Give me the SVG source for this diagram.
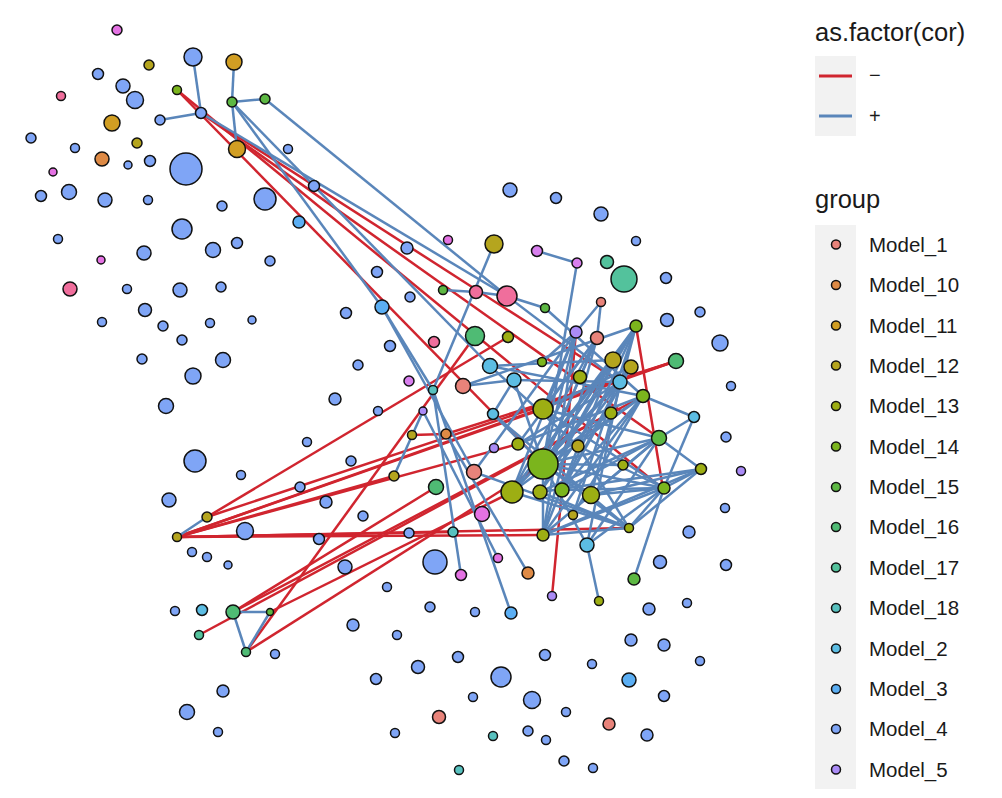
<svg xmlns="http://www.w3.org/2000/svg" width="1002" height="798" viewBox="0 0 1002 798">
<style>
text{font-family:"Liberation Sans",Arial,sans-serif;fill:#1a1a1a}
circle{stroke:#111;stroke-width:1.5}
.r line,line.r{stroke:#D0252F;stroke-width:2.5}
.bl line,line.bl{stroke:#5A86BA;stroke-width:2.5}
.m1 circle,circle.m1{fill:#E8837A}.m10 circle,circle.m10{fill:#DE8A45}.m11 circle,circle.m11{fill:#D19E23}.m12 circle,circle.m12{fill:#B5A51E}.m13 circle,circle.m13{fill:#9DAE13}.m14 circle,circle.m14{fill:#7BB51D}.m15 circle,circle.m15{fill:#5DB843}.m16 circle,circle.m16{fill:#4FBB74}.m17 circle,circle.m17{fill:#53C29C}.m18 circle,circle.m18{fill:#58C1BF}.m2 circle,circle.m2{fill:#5CBDE3}.m3 circle,circle.m3{fill:#5BAEF3}.m4 circle,circle.m4{fill:#7FA5F6}.m5 circle,circle.m5{fill:#AA8BF6}.mg circle{fill:#E472E3}.pk circle{fill:#F06E9C}.pm circle{fill:#D87FEE}
</style>
<rect width="1002" height="798" fill="#fff"/>
<g id="connectors">
<g class="r">
<line x1="177" y1="90" x2="543" y2="464"/>
<line x1="177" y1="90" x2="663" y2="489"/>
<line x1="201" y1="113" x2="620" y2="382"/>
<line x1="201" y1="113" x2="659" y2="438"/>
<line x1="207" y1="517" x2="508" y2="337"/>
<line x1="177" y1="537" x2="518" y2="444"/>
<line x1="177" y1="537" x2="543" y2="409"/>
<line x1="177" y1="537" x2="453" y2="532"/>
<line x1="177" y1="537" x2="543" y2="535"/>
<line x1="177" y1="537" x2="629" y2="528"/>
<line x1="177" y1="537" x2="394" y2="476"/>
<line x1="177" y1="537" x2="676" y2="361"/>
<line x1="207" y1="517" x2="676" y2="361"/>
<line x1="233" y1="612" x2="436" y2="487"/>
<line x1="233" y1="612" x2="611" y2="413"/>
<line x1="246" y1="652" x2="543" y2="464"/>
<line x1="246" y1="652" x2="475" y2="336"/>
<line x1="199" y1="635" x2="643" y2="396"/>
<line x1="270" y1="612" x2="512" y2="492"/>
<line x1="412" y1="435" x2="446" y2="434"/>
<line x1="446" y1="434" x2="676" y2="361"/>
<line x1="552" y1="596" x2="562" y2="490"/>
<line x1="576" y1="332" x2="562" y2="490"/>
<line x1="636" y1="326" x2="663" y2="489"/>
</g>
<g class="bl">
<line x1="193" y1="57" x2="201" y2="113"/>
<line x1="160" y1="120" x2="201" y2="113"/>
<line x1="234" y1="62" x2="232" y2="102"/>
<line x1="232" y1="102" x2="265" y2="99"/>
<line x1="232" y1="102" x2="237" y2="149"/>
<line x1="265" y1="99" x2="507" y2="296"/>
<line x1="201" y1="113" x2="507" y2="296"/>
<line x1="232" y1="102" x2="382" y2="307"/>
<line x1="232" y1="102" x2="490" y2="366"/>
<line x1="177" y1="537" x2="207" y2="517"/>
<line x1="233" y1="612" x2="270" y2="612"/>
<line x1="233" y1="612" x2="246" y2="652"/>
<line x1="270" y1="612" x2="246" y2="652"/>
<line x1="494" y1="244" x2="433" y2="390"/>
<line x1="443" y1="290" x2="476" y2="292"/>
<line x1="476" y1="292" x2="507" y2="296"/>
<line x1="507" y1="296" x2="545" y2="308"/>
<line x1="507" y1="296" x2="620" y2="382"/>
<line x1="537" y1="251" x2="577" y2="263"/>
<line x1="577" y1="263" x2="543" y2="464"/>
<line x1="601" y1="302" x2="597" y2="338"/>
<line x1="601" y1="302" x2="576" y2="332"/>
<line x1="545" y1="308" x2="643" y2="396"/>
<line x1="382" y1="307" x2="433" y2="390"/>
<line x1="382" y1="307" x2="474" y2="472"/>
<line x1="433" y1="390" x2="461" y2="575"/>
<line x1="423" y1="411" x2="394" y2="476"/>
<line x1="433" y1="390" x2="511" y2="613"/>
<line x1="423" y1="411" x2="498" y2="558"/>
<line x1="446" y1="434" x2="528" y2="573"/>
<line x1="587" y1="545" x2="599" y2="601"/>
<line x1="664" y1="488" x2="634" y2="579"/>
<line x1="543" y1="464" x2="576" y2="332"/><line x1="543" y1="464" x2="597" y2="338"/><line x1="543" y1="464" x2="636" y2="326"/><line x1="543" y1="464" x2="613" y2="360"/><line x1="543" y1="464" x2="631" y2="367"/><line x1="543" y1="464" x2="620" y2="382"/><line x1="543" y1="464" x2="643" y2="396"/><line x1="543" y1="464" x2="611" y2="413"/><line x1="543" y1="464" x2="659" y2="438"/><line x1="543" y1="464" x2="623" y2="465"/><line x1="543" y1="464" x2="664" y2="488"/><line x1="543" y1="464" x2="629" y2="528"/><line x1="543" y1="464" x2="591" y2="495"/><line x1="543" y1="464" x2="543" y2="535"/><line x1="543" y1="464" x2="587" y2="545"/><line x1="543" y1="464" x2="580" y2="377"/><line x1="543" y1="464" x2="514" y2="380"/><line x1="543" y1="464" x2="493" y2="414"/>
<line x1="512" y1="492" x2="576" y2="332"/><line x1="512" y1="492" x2="597" y2="338"/><line x1="512" y1="492" x2="613" y2="360"/><line x1="512" y1="492" x2="620" y2="382"/><line x1="512" y1="492" x2="643" y2="396"/><line x1="512" y1="492" x2="636" y2="326"/>
<line x1="540" y1="492" x2="636" y2="326"/><line x1="540" y1="492" x2="613" y2="360"/><line x1="540" y1="492" x2="631" y2="367"/><line x1="540" y1="492" x2="659" y2="438"/><line x1="540" y1="492" x2="629" y2="528"/>
<line x1="562" y1="490" x2="636" y2="326"/><line x1="562" y1="490" x2="631" y2="367"/><line x1="562" y1="490" x2="620" y2="382"/><line x1="562" y1="490" x2="643" y2="396"/><line x1="562" y1="490" x2="659" y2="438"/><line x1="562" y1="490" x2="664" y2="488"/>
<line x1="591" y1="495" x2="659" y2="438"/><line x1="591" y1="495" x2="664" y2="488"/><line x1="591" y1="495" x2="636" y2="326"/>
<line x1="543" y1="535" x2="664" y2="488"/><line x1="543" y1="535" x2="629" y2="528"/><line x1="543" y1="535" x2="659" y2="438"/><line x1="543" y1="535" x2="643" y2="396"/><line x1="543" y1="535" x2="613" y2="360"/><line x1="543" y1="535" x2="576" y2="332"/><line x1="543" y1="535" x2="597" y2="338"/>
<line x1="587" y1="545" x2="664" y2="488"/><line x1="587" y1="545" x2="659" y2="438"/><line x1="587" y1="545" x2="620" y2="382"/>
<line x1="573" y1="515" x2="636" y2="326"/><line x1="573" y1="515" x2="643" y2="396"/>
<line x1="629" y1="528" x2="664" y2="488"/><line x1="629" y1="528" x2="701" y2="469"/><line x1="664" y1="488" x2="701" y2="469"/><line x1="664" y1="488" x2="694" y2="417"/><line x1="659" y1="438" x2="701" y2="469"/><line x1="659" y1="438" x2="694" y2="417"/><line x1="643" y1="396" x2="694" y2="417"/>
<line x1="543" y1="409" x2="597" y2="338"/><line x1="543" y1="409" x2="576" y2="332"/><line x1="543" y1="409" x2="631" y2="367"/><line x1="543" y1="409" x2="659" y2="438"/><line x1="543" y1="409" x2="664" y2="488"/>
<line x1="518" y1="444" x2="620" y2="382"/><line x1="518" y1="444" x2="643" y2="396"/><line x1="518" y1="444" x2="597" y2="338"/>
<line x1="578" y1="446" x2="664" y2="488"/><line x1="578" y1="446" x2="629" y2="528"/><line x1="578" y1="446" x2="490" y2="366"/>
<line x1="490" y1="366" x2="613" y2="360"/><line x1="490" y1="366" x2="643" y2="396"/><line x1="514" y1="380" x2="620" y2="382"/>
<line x1="493" y1="414" x2="514" y2="380"/><line x1="493" y1="414" x2="629" y2="528"/><line x1="580" y1="377" x2="597" y2="338"/><line x1="542" y1="362" x2="576" y2="332"/>
<line x1="474" y1="472" x2="629" y2="528"/><line x1="474" y1="472" x2="576" y2="332"/><line x1="463" y1="386" x2="514" y2="380"/><line x1="463" y1="386" x2="636" y2="326"/>
<line x1="512" y1="492" x2="629" y2="528"/><line x1="540" y1="492" x2="701" y2="469"/><line x1="591" y1="495" x2="701" y2="469"/><line x1="543" y1="535" x2="701" y2="469"/>
</g>
</g>
<g id="nodes">
<g id="n1" class="mg"><circle cx="117" cy="30" r="5"/></g>
<g id="n2" class="m4"><circle cx="193" cy="57" r="9"/></g>
<g id="n3" class="m11"><circle cx="234" cy="62" r="8"/></g>
<g id="n4" class="m12"><circle cx="149" cy="65" r="5"/></g>
<g id="n5" class="m4"><circle cx="98" cy="74" r="5.5"/></g>
<g id="n6" class="m4"><circle cx="123" cy="86" r="7"/></g>
<g id="n7" class="m4"><circle cx="135" cy="100" r="8.5"/></g>
<g id="n8" class="m14"><circle cx="177" cy="90" r="4.5"/></g>
<g id="n9" class="m15"><circle cx="232" cy="102" r="5"/></g>
<g id="n10" class="m15"><circle cx="265" cy="99" r="5"/></g>
<g id="n11" class="pk"><circle cx="61" cy="96" r="4.5"/></g>
<g id="n12" class="m4"><circle cx="201" cy="113" r="5.5"/></g>
<g id="n13" class="m4"><circle cx="160" cy="120" r="5"/></g>
<g id="n14" class="m11"><circle cx="112" cy="123" r="8"/></g>
<g id="n15" class="m4"><circle cx="31" cy="138" r="5"/></g>
<g id="n16" class="m12"><circle cx="137" cy="143" r="5"/></g>
<g id="n17" class="m11"><circle cx="237" cy="149" r="8.5"/></g>
<g id="n18" class="m4"><circle cx="75" cy="148" r="4.5"/></g>
<g id="n19" class="m4"><circle cx="288" cy="149" r="4.5"/></g>
<g id="n20" class="m10"><circle cx="102" cy="159" r="7"/></g>
<g id="n21" class="m4"><circle cx="128" cy="165" r="4"/></g>
<g id="n22" class="m4"><circle cx="150" cy="161" r="5.5"/></g>
<g id="n23" class="m4"><circle cx="186" cy="169" r="16"/></g>
<g id="n24" class="mg"><circle cx="53" cy="172" r="4"/></g>
<g id="n25" class="m4"><circle cx="41" cy="196" r="5.5"/></g>
<g id="n26" class="m4"><circle cx="69" cy="192" r="7.5"/></g>
<g id="n27" class="m4"><circle cx="105" cy="200" r="7"/></g>
<g id="n28" class="m4"><circle cx="148" cy="200" r="4.5"/></g>
<g id="n29" class="m4"><circle cx="222" cy="206" r="5"/></g>
<g id="n30" class="m4"><circle cx="265" cy="199" r="11"/></g>
<g id="n31" class="m4"><circle cx="314" cy="186" r="5.5"/></g>
<g id="n32" class="m3"><circle cx="299" cy="222" r="6"/></g>
<g id="n33" class="m4"><circle cx="182" cy="229" r="10"/></g>
<g id="n34" class="m4"><circle cx="58" cy="239" r="4.5"/></g>
<g id="n35" class="m4"><circle cx="144" cy="253" r="7"/></g>
<g id="n36" class="m4"><circle cx="213" cy="250" r="7.5"/></g>
<g id="n37" class="m4"><circle cx="237" cy="243" r="5.5"/></g>
<g id="n38" class="mg"><circle cx="101" cy="260" r="4"/></g>
<g id="n39" class="m4"><circle cx="270" cy="261" r="5"/></g>
<g id="n40" class="pk"><circle cx="70" cy="289" r="7"/></g>
<g id="n41" class="m4"><circle cx="127" cy="289" r="4.5"/></g>
<g id="n42" class="m4"><circle cx="180" cy="290" r="7"/></g>
<g id="n43" class="m4"><circle cx="221" cy="287" r="5"/></g>
<g id="n44" class="m4"><circle cx="145" cy="310" r="6.5"/></g>
<g id="n45" class="m4"><circle cx="102" cy="322" r="4.5"/></g>
<g id="n46" class="m4"><circle cx="163" cy="326" r="5"/></g>
<g id="n47" class="m4"><circle cx="210" cy="323" r="4.5"/></g>
<g id="n48" class="m4"><circle cx="252" cy="320" r="4"/></g>
<g id="n49" class="m4"><circle cx="182" cy="340" r="5"/></g>
<g id="n50" class="m4"><circle cx="142" cy="359" r="5"/></g>
<g id="n51" class="m4"><circle cx="223" cy="360" r="7.5"/></g>
<g id="n52" class="m4"><circle cx="193" cy="376" r="8"/></g>
<g id="n53" class="m4"><circle cx="166" cy="406" r="7.5"/></g>
<g id="n54" class="m4"><circle cx="335" cy="399" r="6"/></g>
<g id="n55" class="m4"><circle cx="307" cy="442" r="4.5"/></g>
<g id="n56" class="m4"><circle cx="195" cy="461" r="11"/></g>
<g id="n57" class="m4"><circle cx="241" cy="475" r="4.5"/></g>
<g id="n58" class="m4"><circle cx="300" cy="487" r="5"/></g>
<g id="n59" class="m4"><circle cx="169" cy="500" r="7"/></g>
<g id="n60" class="m4"><circle cx="326" cy="502" r="6"/></g>
<g id="n61" class="m4"><circle cx="510" cy="190" r="7"/></g>
<g id="n62" class="m4"><circle cx="556" cy="198" r="5.5"/></g>
<g id="n63" class="m4"><circle cx="601" cy="214" r="7"/></g>
<g id="n64" class="mg"><circle cx="448" cy="240" r="4.5"/></g>
<g id="n65" class="m12"><circle cx="494" cy="244" r="9"/></g>
<g id="n66" class="m4"><circle cx="407" cy="248" r="6"/></g>
<g id="n67" class="pm"><circle cx="537" cy="251" r="5.5"/></g>
<g id="n68" class="pm"><circle cx="577" cy="263" r="5"/></g>
<g id="n69" class="m4"><circle cx="636" cy="241" r="4.5"/></g>
<g id="n70" class="m17"><circle cx="607" cy="262" r="6.5"/></g>
<g id="n71" class="m17"><circle cx="624" cy="279" r="13"/></g>
<g id="n72" class="m4"><circle cx="666" cy="278" r="5.5"/></g>
<g id="n73" class="m4"><circle cx="377" cy="272" r="5.5"/></g>
<g id="n74" class="m15"><circle cx="443" cy="290" r="4.5"/></g>
<g id="n75" class="pk"><circle cx="476" cy="292" r="6.5"/></g>
<g id="n76" class="pk"><circle cx="507" cy="296" r="10"/></g>
<g id="n77" class="m15"><circle cx="545" cy="308" r="4.5"/></g>
<g id="n78" class="m4"><circle cx="410" cy="297" r="5"/></g>
<g id="n79" class="m1"><circle cx="601" cy="302" r="4.5"/></g>
<g id="n80" class="m3"><circle cx="382" cy="307" r="7"/></g>
<g id="n81" class="m4"><circle cx="346" cy="313" r="5.5"/></g>
<g id="n82" class="m4"><circle cx="667" cy="320" r="6.5"/></g>
<g id="n83" class="m4"><circle cx="700" cy="312" r="5"/></g>
<g id="n84" class="m14"><circle cx="636" cy="326" r="6"/></g>
<g id="n85" class="m5"><circle cx="576" cy="332" r="6"/></g>
<g id="n86" class="m1"><circle cx="597" cy="338" r="6.5"/></g>
<g id="n87" class="pk"><circle cx="434" cy="342" r="5.5"/></g>
<g id="n88" class="m16"><circle cx="475" cy="336" r="9.5"/></g>
<g id="n89" class="m13"><circle cx="508" cy="337" r="5.5"/></g>
<g id="n90" class="m4"><circle cx="390" cy="346" r="5.5"/></g>
<g id="n91" class="m4"><circle cx="720" cy="343" r="8"/></g>
<g id="n92" class="m4"><circle cx="358" cy="365" r="5"/></g>
<g id="n93" class="m12"><circle cx="613" cy="360" r="8"/></g>
<g id="n94" class="m12"><circle cx="631" cy="367" r="7"/></g>
<g id="n95" class="m16"><circle cx="676" cy="361" r="7.5"/></g>
<g id="n96" class="m14"><circle cx="542" cy="362" r="4.5"/></g>
<g id="n97" class="m2"><circle cx="490" cy="366" r="7.5"/></g>
<g id="n98" class="m2"><circle cx="514" cy="380" r="7"/></g>
<g id="n99" class="pm"><circle cx="409" cy="381" r="5"/></g>
<g id="n100" class="m1"><circle cx="463" cy="386" r="7.5"/></g>
<g id="n101" class="m13"><circle cx="580" cy="377" r="6.5"/></g>
<g id="n102" class="m2"><circle cx="620" cy="382" r="7"/></g>
<g id="n103" class="m4"><circle cx="731" cy="386" r="4.5"/></g>
<g id="n104" class="m18"><circle cx="433" cy="390" r="4.5"/></g>
<g id="n105" class="m14"><circle cx="643" cy="396" r="6.5"/></g>
<g id="n106" class="m4"><circle cx="378" cy="411" r="4.5"/></g>
<g id="n107" class="m5"><circle cx="423" cy="411" r="4"/></g>
<g id="n108" class="m2"><circle cx="493" cy="414" r="5.5"/></g>
<g id="n109" class="m13"><circle cx="543" cy="409" r="10"/></g>
<g id="n110" class="m13"><circle cx="611" cy="413" r="6"/></g>
<g id="n111" class="m2"><circle cx="694" cy="417" r="5.5"/></g>
<g id="n112" class="m12"><circle cx="412" cy="435" r="4.5"/></g>
<g id="n113" class="m10"><circle cx="446" cy="434" r="5"/></g>
<g id="n114" class="m5"><circle cx="494" cy="448" r="4.5"/></g>
<g id="n115" class="m13"><circle cx="518" cy="444" r="6"/></g>
<g id="n116" class="m12"><circle cx="578" cy="446" r="6"/></g>
<g id="n117" class="m4"><circle cx="726" cy="437" r="5"/></g>
<g id="n118" class="m15"><circle cx="659" cy="438" r="7.5"/></g>
<g id="n119" class="m4"><circle cx="351" cy="461" r="5"/></g>
<g id="n120" class="m1"><circle cx="474" cy="472" r="7.5"/></g>
<g id="n121" class="m14"><circle cx="543" cy="464" r="15"/></g>
<g id="n122" class="m13"><circle cx="623" cy="465" r="5"/></g>
<g id="n123" class="m13"><circle cx="701" cy="469" r="5.5"/></g>
<g id="n124" class="m5"><circle cx="741" cy="471" r="4.5"/></g>
<g id="n125" class="m12"><circle cx="394" cy="476" r="5"/></g>
<g id="n126" class="m16"><circle cx="436" cy="487" r="7.5"/></g>
<g id="n127" class="m13"><circle cx="512" cy="492" r="11"/></g>
<g id="n128" class="m13"><circle cx="540" cy="492" r="7"/></g>
<g id="n129" class="m14"><circle cx="562" cy="490" r="7"/></g>
<g id="n130" class="m13"><circle cx="591" cy="495" r="8.5"/></g>
<g id="n131" class="m14"><circle cx="664" cy="488" r="6"/></g>
<g id="n132" class="m4"><circle cx="725" cy="508" r="4.5"/></g>
<g id="n133" class="m4"><circle cx="363" cy="516" r="5"/></g>
<g id="n134" class="mg"><circle cx="482" cy="514" r="7.5"/></g>
<g id="n135" class="m12"><circle cx="573" cy="515" r="4.5"/></g>
<g id="n136" class="m13"><circle cx="629" cy="528" r="4.5"/></g>
<g id="n137" class="m18"><circle cx="453" cy="532" r="5"/></g>
<g id="n138" class="m4"><circle cx="409" cy="533" r="5"/></g>
<g id="n139" class="m13"><circle cx="543" cy="535" r="6"/></g>
<g id="n140" class="m2"><circle cx="587" cy="545" r="7"/></g>
<g id="n141" class="m4"><circle cx="689" cy="532" r="6"/></g>
<g id="n142" class="m4"><circle cx="435" cy="562" r="12"/></g>
<g id="n143" class="m4"><circle cx="345" cy="567" r="7"/></g>
<g id="n144" class="mg"><circle cx="498" cy="558" r="4.5"/></g>
<g id="n145" class="mg"><circle cx="461" cy="575" r="5.5"/></g>
<g id="n146" class="m10"><circle cx="528" cy="573" r="6"/></g>
<g id="n147" class="m4"><circle cx="660" cy="562" r="6.5"/></g>
<g id="n148" class="m4"><circle cx="726" cy="565" r="5.5"/></g>
<g id="n149" class="m15"><circle cx="634" cy="579" r="6"/></g>
<g id="n150" class="m4"><circle cx="387" cy="587" r="4.5"/></g>
<g id="n151" class="m5"><circle cx="552" cy="596" r="4.5"/></g>
<g id="n152" class="m13"><circle cx="599" cy="601" r="4.5"/></g>
<g id="n153" class="m4"><circle cx="430" cy="607" r="5"/></g>
<g id="n154" class="m4"><circle cx="475" cy="612" r="4.5"/></g>
<g id="n155" class="m3"><circle cx="511" cy="613" r="6"/></g>
<g id="n156" class="m4"><circle cx="649" cy="609" r="6"/></g>
<g id="n157" class="m4"><circle cx="687" cy="603" r="4.5"/></g>
<g id="n158" class="m12"><circle cx="177" cy="537" r="4.5"/></g>
<g id="n159" class="m12"><circle cx="207" cy="517" r="5"/></g>
<g id="n160" class="m4"><circle cx="245" cy="531" r="8.5"/></g>
<g id="n161" class="m4"><circle cx="319" cy="539" r="5.5"/></g>
<g id="n162" class="m4"><circle cx="192" cy="552" r="4.5"/></g>
<g id="n163" class="m4"><circle cx="207" cy="557" r="4.5"/></g>
<g id="n164" class="m4"><circle cx="228" cy="565" r="4"/></g>
<g id="n165" class="m4"><circle cx="175" cy="611" r="4.5"/></g>
<g id="n166" class="m2"><circle cx="202" cy="610" r="5.5"/></g>
<g id="n167" class="m16"><circle cx="233" cy="612" r="7"/></g>
<g id="n168" class="m15"><circle cx="270" cy="612" r="3.5"/></g>
<g id="n169" class="m17"><circle cx="199" cy="635" r="4.5"/></g>
<g id="n170" class="m16"><circle cx="246" cy="652" r="4.5"/></g>
<g id="n171" class="m4"><circle cx="275" cy="654" r="4.5"/></g>
<g id="n172" class="m4"><circle cx="353" cy="625" r="6"/></g>
<g id="n173" class="m4"><circle cx="397" cy="635" r="4.5"/></g>
<g id="n174" class="m4"><circle cx="458" cy="657" r="5.5"/></g>
<g id="n175" class="m4"><circle cx="545" cy="655" r="5.5"/></g>
<g id="n176" class="m4"><circle cx="592" cy="664" r="4.5"/></g>
<g id="n177" class="m4"><circle cx="418" cy="667" r="6.5"/></g>
<g id="n178" class="m4"><circle cx="376" cy="679" r="5.5"/></g>
<g id="n179" class="m4"><circle cx="501" cy="677" r="10"/></g>
<g id="n180" class="m3"><circle cx="629" cy="680" r="7"/></g>
<g id="n181" class="m4"><circle cx="631" cy="640" r="6"/></g>
<g id="n182" class="m4"><circle cx="664" cy="645" r="6"/></g>
<g id="n183" class="m4"><circle cx="700" cy="661" r="4.5"/></g>
<g id="n184" class="m4"><circle cx="223" cy="691" r="6"/></g>
<g id="n185" class="m4"><circle cx="187" cy="712" r="7.5"/></g>
<g id="n186" class="m4"><circle cx="473" cy="697" r="4.5"/></g>
<g id="n187" class="m4"><circle cx="532" cy="700" r="8.5"/></g>
<g id="n188" class="m4"><circle cx="664" cy="696" r="5.5"/></g>
<g id="n189" class="m4"><circle cx="566" cy="712" r="4.5"/></g>
<g id="n190" class="m1"><circle cx="439" cy="717" r="6.5"/></g>
<g id="n191" class="m1"><circle cx="609" cy="724" r="6"/></g>
<g id="n192" class="m4"><circle cx="218" cy="732" r="4.5"/></g>
<g id="n193" class="m4"><circle cx="395" cy="733" r="4.5"/></g>
<g id="n194" class="m18"><circle cx="493" cy="736" r="4.5"/></g>
<g id="n195" class="m4"><circle cx="528" cy="731" r="5"/></g>
<g id="n196" class="m4"><circle cx="546" cy="740" r="4.5"/></g>
<g id="n197" class="m4"><circle cx="647" cy="735" r="6"/></g>
<g id="n198" class="m18"><circle cx="459" cy="770" r="4.5"/></g>
<g id="n199" class="m4"><circle cx="564" cy="761" r="5"/></g>
<g id="n200" class="m4"><circle cx="593" cy="768" r="4.5"/></g>
</g>
<g id="legend">
<text x="815" y="41" font-size="25.5">as.factor(cor)</text>
<rect x="815" y="56" width="41" height="80" fill="#F2F2F2"/>
<line x1="819" y1="76" x2="852" y2="76" stroke="#D0252F" stroke-width="3"/>
<line x1="819" y1="116" x2="852" y2="116" stroke="#5A86BA" stroke-width="3"/>
<text x="869" y="82" font-size="20">−</text>
<text x="869" y="123" font-size="20">+</text>
<text x="815" y="208" font-size="25.5">group</text>
<rect x="815" y="225" width="41" height="564" fill="#F2F2F2"/>
<g font-size="20.5">
<circle class="m1" cx="836" cy="244.5" r="4.5"/><text x="869" y="252">Model_1</text>
<circle class="m10" cx="836" cy="285" r="4.5"/><text x="869" y="292">Model_10</text>
<circle class="m11" cx="836" cy="325.5" r="4.5"/><text x="869" y="333">Model_11</text>
<circle class="m12" cx="836" cy="365.5" r="4.5"/><text x="869" y="373">Model_12</text>
<circle class="m13" cx="836" cy="406" r="4.5"/><text x="869" y="413">Model_13</text>
<circle class="m14" cx="836" cy="446.5" r="4.5"/><text x="869" y="454">Model_14</text>
<circle class="m15" cx="836" cy="487" r="4.5"/><text x="869" y="494">Model_15</text>
<circle class="m16" cx="836" cy="527" r="4.5"/><text x="869" y="534">Model_16</text>
<circle class="m17" cx="836" cy="567.5" r="4.5"/><text x="869" y="575">Model_17</text>
<circle class="m18" cx="836" cy="608" r="4.5"/><text x="869" y="615">Model_18</text>
<circle class="m2" cx="836" cy="648.5" r="4.5"/><text x="869" y="656">Model_2</text>
<circle class="m3" cx="836" cy="689" r="4.5"/><text x="869" y="696">Model_3</text>
<circle class="m4" cx="836" cy="729" r="4.5"/><text x="869" y="736">Model_4</text>
<circle class="m5" cx="836" cy="769.5" r="4.5"/><text x="869" y="777">Model_5</text>
</g>
</g>
</svg>
